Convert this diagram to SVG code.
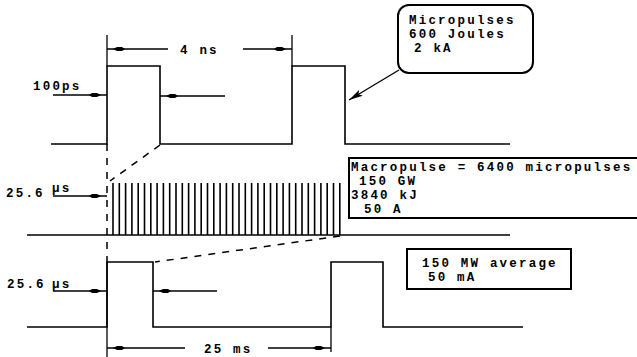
<svg xmlns="http://www.w3.org/2000/svg" width="637" height="357" viewBox="0 0 637 357">
<style>
.w{fill:none;stroke:#000;stroke-width:1.6}
.t{fill:none;stroke:#000;stroke-width:1.3}
.d{fill:none;stroke:#000;stroke-width:1.5;stroke-dasharray:7 7}
.p{fill:none;stroke:#000;stroke-width:1.6}
.box{fill:#fff;stroke:#000;stroke-width:2}
text{font-family:"Liberation Mono","DejaVu Sans Mono",monospace;font-weight:bold;font-size:12.5px;letter-spacing:2.2px;fill:#000}
</style>
<defs>
<marker id="ah" markerUnits="userSpaceOnUse" viewBox="0 0 12 6" markerWidth="12" markerHeight="6" refX="18" refY="3" orient="auto">
<path d="M0,3 L3,1 L8,1 L12,3 L8,5 L3,5 Z" fill="#000"/>
</marker>
<marker id="ca" markerUnits="userSpaceOnUse" viewBox="0 0 14 8" markerWidth="14" markerHeight="8" refX="14" refY="4" orient="auto">
<path d="M0,0.5 L14,4 L0,7.5 L3,4 Z" fill="#000"/>
</marker>
</defs>

<g id="top-waveform">
<polyline class="w" points="51,144 107,144 107,66 160,66 160,144 292,144 292,66 345,66 345,144 510,144"/>
<line class="t" x1="107" y1="35" x2="107" y2="66"/>
<line class="t" x1="292" y1="35" x2="292" y2="66"/>
</g>

<g id="middle-train">
<line class="w" x1="27" y1="235" x2="510" y2="235"/>
<g class="p">
<path d="M113,183V235M119.3,183V235M125.6,183V235M131.9,183V235M138.2,183V235M144.5,183V235M150.8,183V235M157.1,183V235M163.4,183V235M169.7,183V235M176,183V235M182.3,183V235M188.6,183V235M194.9,183V235M201.2,183V235M207.5,183V235M213.8,183V235M220.1,183V235M226.4,183V235M232.7,183V235M239,183V235M245.3,183V235M251.6,183V235M257.9,183V235M264.2,183V235M270.5,183V235M276.8,183V235M283.1,183V235M289.4,183V235M295.7,183V235M302,183V235M308.3,183V235M314.6,183V235M320.9,183V235M327.2,183V235M333.5,183V235M339.8,183V235"/>
</g>
</g>

<g id="bottom-waveform">
<polyline class="w" points="27,327 107,327 107,262 153,262 153,327 331,327 331,262 383,262 383,327 523,327"/>
<line class="t" x1="107" y1="262" x2="107" y2="357"/>
<line class="t" x1="331" y1="327" x2="331" y2="352"/>
</g>

<g id="connectors">
<line class="d" x1="107" y1="144" x2="107" y2="262"/>
<line class="d" x1="160" y1="145" x2="110" y2="181"/>
<line class="d" x1="340" y1="236" x2="155" y2="262"/>
<line class="t" x1="168" y1="49" x2="107" y2="49" marker-end="url(#ah)"/>
<line class="t" x1="243" y1="49" x2="292" y2="49" marker-end="url(#ah)"/>
<line class="t" x1="53" y1="95" x2="107" y2="95" marker-end="url(#ah)"/>
<line class="t" x1="225" y1="96" x2="160" y2="96" marker-end="url(#ah)"/>
<line class="t" x1="53" y1="196" x2="107" y2="196" marker-end="url(#ah)"/>
<line class="t" x1="53" y1="291" x2="107" y2="291" marker-end="url(#ah)"/>
<line class="t" x1="217" y1="291" x2="153" y2="291" marker-end="url(#ah)"/>
<line class="t" x1="185" y1="348" x2="107" y2="348" marker-end="url(#ah)"/>
<line class="t" x1="268" y1="348" x2="331" y2="348" marker-end="url(#ah)"/>
<line class="t" x1="399" y1="70" x2="349" y2="100" marker-end="url(#ca)"/>
</g>

<g id="labels">
<text x="180" y="54">4 ns</text>
<text x="33" y="90">100ps</text>
<text x="6" y="197">25.6</text>
<text x="52" y="192">μs</text>
<text x="7" y="288">25.6</text>
<text x="52" y="288">μs</text>
<text x="204" y="353">25 ms</text>
</g>

<g id="micropulses-box">
<rect class="box" x="398" y="5" width="135" height="68" rx="11"/>
<text x="409" y="24">Micropulses</text>
<text x="409" y="38">600 Joules</text>
<text x="414" y="52">2 kA</text>
</g>

<g id="macropulse-box">
<rect class="box" x="349" y="158" width="300" height="60"/>
<text x="351" y="171">Macropulse = 6400 micropulses</text>
<text x="359" y="185">150 GW</text>
<text x="351" y="199">3840 kJ</text>
<text x="364" y="213">50 A</text>
</g>

<g id="average-box">
<rect class="box" x="407" y="249" width="164" height="40"/>
<text x="422" y="267">150 MW average</text>
<text x="428" y="281">50 mA</text>
</g>
</svg>
